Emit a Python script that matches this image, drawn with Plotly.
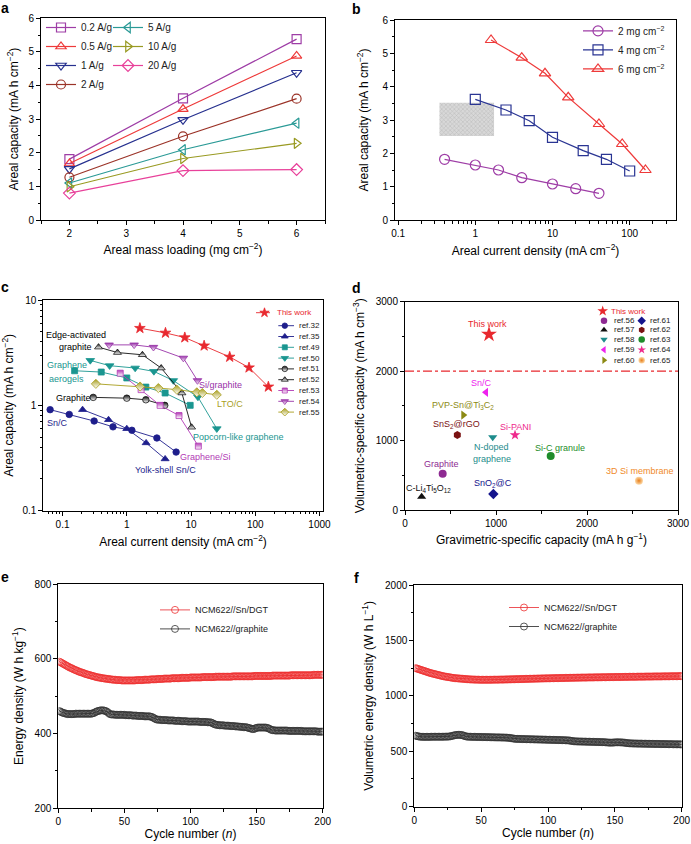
import plotly.graph_objects as go

W, H = 691, 844
FONT = "Liberation Sans, Arial, Helvetica, sans-serif"

# ====================== DATA ======================
# ---- (a) areal capacity vs areal mass loading
a_loading = [2, 4, 6]
a_names = ["0.2 A/g", "0.5 A/g", "1 A/g", "2 A/g", "5 A/g", "10 A/g", "20 A/g"]
a_cap_0p2 = [1.81, 3.62, 5.38]
a_cap_0p5 = [1.68, 3.30, 4.88]
a_cap_1 = [1.52, 2.98, 4.38]
a_cap_2 = [1.27, 2.49, 3.61]
a_cap_5 = [1.10, 2.09, 2.88]
a_cap_10 = [0.99, 1.83, 2.28]
a_cap_20 = [0.80, 1.47, 1.50]

# ---- (b) areal capacity vs areal current density
b_names = ["2 mg cm<sup>−2</sup>", "4 mg cm<sup>−2</sup>", "6 mg cm<sup>−2</sup>"]
b_j_2 = [0.4, 1, 2, 4, 10, 20, 40]
b_cap_2 = [1.82, 1.65, 1.50, 1.27, 1.08, 0.94, 0.80]
b_j_4 = [1, 2.5, 5, 10, 25, 50, 100]
b_cap_4 = [3.62, 3.30, 2.98, 2.48, 2.08, 1.82, 1.47]
b_j_6 = [1.6, 4, 8, 16, 40, 80, 160]
b_cap_6 = [5.40, 4.87, 4.40, 3.68, 2.88, 2.28, 1.50]
b_region_j = [0.343, 1.75]
b_region_cap = [2.52, 3.52]

# ---- (c) comparison with literature
c_this_j = [1.6, 4, 8, 16, 40, 80, 160]
c_this_cap = [5.40, 4.87, 4.40, 3.68, 2.88, 2.28, 1.50]
c_ref32_j = [0.064, 0.127, 0.31, 0.61, 1.2, 2.94, 5.86]
c_ref32_cap = [0.91, 0.82, 0.71, 0.625, 0.58, 0.49, 0.36]
c_ref35_j = [0.205, 0.52, 1.0, 2.0, 3.95]
c_ref35_cap = [0.91, 0.73, 0.60, 0.44, 0.31]
c_ref49_j = [0.154, 0.40, 1.0, 1.98, 3.95, 9.7]
c_ref49_cap = [2.13, 2.07, 1.82, 1.49, 1.31, 1.00]
c_ref50_j = [0.27, 0.54, 1.35, 2.64, 5.3, 12.8, 25.2]
c_ref50_cap = [2.67, 2.38, 2.26, 2.10, 1.72, 1.20, 0.60]
c_ref51_j = [0.30, 1.0, 1.98, 3.9]
c_ref51_cap = [1.19, 1.17, 1.13, 1.00]
c_ref52_j = [0.363, 0.716, 1.75, 3.43, 7.2, 10.2]
c_ref52_cap = [3.57, 3.17, 3.02, 2.26, 1.31, 0.62]
c_ref53_j = [0.79, 1.67, 3.3, 6.5, 13.0]
c_ref53_cap = [2.02, 1.41, 1.00, 0.80, 0.41]
c_ref54_j = [0.53, 1.30, 2.6, 7.6, 12.6]
c_ref54_cap = [3.75, 3.75, 3.56, 2.81, 1.72]
c_ref55_j = [0.33, 1.61, 3.1, 6.0, 12.3, 15.0, 25.2]
c_ref55_cap = [1.60, 1.51, 1.46, 1.41, 1.33, 1.31, 1.26]
c_names = ["This work", "ref.32", "ref.35", "ref.49", "ref.50", "ref.51",
           "ref.52", "ref.53", "ref.54", "ref.55"]

# ---- (d) volumetric vs gravimetric capacity
d_this_grav = [923]
d_this_vol = [2530]
d_names = ["ref.56", "ref.57", "ref.58", "ref.59", "ref.60",
           "ref.61", "ref.62", "ref.63", "ref.64", "ref.65"]
d_grav = [414, 183, 964, 890, 641, 971, 575, 1601, 1209, 2571]
d_vol = [523, 192, 1047, 1695, 1368, 230, 1080, 778, 1080, 422]
d_threshold = [2000, 2000]
d_threshold_x = [0, 3000]

# ---- (e, f) full-cell cycling
cycles = list(range(1, 201))
e_sn = [592,590,588,586,584,582,580,578,576,575,573,571,570,568,567,565,564,563,562,560,
        559,558,557,556,555,554,553,552,551,550,550,549,548,548,547,547,546,546,545,545,
        544,544,544,543,543,543,543,542,542,542,542,542,542,542,542,542,542,542,543,543,
        543,543,543,543,544,544,544,544,544,545,545,545,545,545,546,546,546,546,546,547,
        547,547,547,547,547,548,548,548,548,548,548,548,549,549,549,549,549,549,549,550,
        550,550,550,550,550,550,550,550,551,551,551,551,551,551,551,551,551,551,552,552,
        552,552,552,552,552,552,552,552,552,552,552,553,553,553,553,553,553,553,553,553,
        553,553,553,553,553,553,553,554,554,554,554,554,554,554,554,554,554,554,554,554,
        554,555,555,555,555,555,555,555,555,555,555,555,555,555,555,556,556,556,556,556,
        556,556,556,556,556,556,556,556,556,556,556,556,557,557,557,557,557,557,557,557]
e_gr = [460,458,456,455,454,453,452,452,452,452,452,452,453,453,453,453,453,453,453,453,
        453,453,453,453,453,454,455,457,459,460,461,462,462,462,461,460,458,455,452,451,
        451,451,450,450,450,450,450,450,450,450,449,449,449,449,449,448,448,448,448,447,
        447,447,447,447,446,446,446,446,446,445,444,442,440,438,437,437,437,436,436,436,
        436,436,435,435,435,435,435,434,434,434,434,434,433,433,433,433,433,432,432,432,
        432,432,432,432,432,432,431,431,431,431,431,431,430,430,430,429,427,425,424,423,
        423,422,422,422,422,421,421,421,421,420,420,420,420,419,419,419,418,418,418,417,
        417,417,416,415,414,413,412,412,414,415,416,416,416,416,416,416,416,415,414,412,
        410,409,409,408,408,408,408,408,408,408,408,408,408,407,407,407,407,407,407,407,
        407,407,407,407,406,406,406,406,406,406,406,406,406,406,406,405,405,405,405,405]
f_sn = [1250,1246,1242,1238,1234,1230,1226,1222,1218,1214,1210,1206,1203,1200,1197,1194,1191,1188,1185,1182,
        1179,1176,1174,1172,1170,1168,1166,1164,1162,1160,1159,1158,1157,1156,1155,1154,1153,1152,1151,1150,
        1149,1148,1148,1147,1147,1146,1146,1146,1145,1145,1145,1145,1145,1145,1145,1145,1145,1145,1146,1146,
        1146,1146,1146,1147,1147,1147,1147,1148,1148,1148,1149,1149,1149,1150,1150,1150,1151,1151,1151,1152,
        1152,1152,1153,1153,1153,1154,1154,1154,1155,1155,1155,1156,1156,1156,1157,1157,1157,1158,1158,1158,
        1158,1159,1159,1159,1160,1160,1160,1160,1161,1161,1161,1161,1162,1162,1162,1162,1163,1163,1163,1163,
        1164,1164,1164,1164,1165,1165,1165,1165,1165,1166,1166,1166,1166,1166,1167,1167,1167,1167,1167,1168,
        1168,1168,1168,1168,1169,1169,1169,1169,1169,1170,1170,1170,1170,1170,1170,1171,1171,1171,1171,1171,
        1172,1172,1172,1172,1172,1172,1173,1173,1173,1173,1173,1173,1174,1174,1174,1174,1174,1174,1175,1175,
        1175,1175,1175,1175,1175,1176,1176,1176,1176,1176,1176,1177,1177,1177,1177,1177,1177,1178,1178,1178]
f_gr = [640,637,634,632,631,630,630,630,630,630,630,630,631,631,631,631,631,631,631,631,
        631,631,632,632,632,633,635,638,641,644,646,648,648,648,647,645,641,636,633,632,
        631,631,630,630,630,630,629,629,629,629,628,628,628,628,627,627,627,626,626,626,
        625,625,625,625,624,624,624,623,623,622,621,619,617,615,613,612,612,611,611,611,
        610,610,610,609,609,609,608,608,608,607,607,607,606,606,606,605,605,605,604,604,
        604,603,603,603,602,602,602,601,601,601,600,600,599,599,598,597,595,593,591,590,
        589,589,588,588,588,587,587,587,586,586,586,585,585,585,584,584,584,583,583,583,
        582,582,581,580,579,578,578,578,579,580,581,581,581,580,580,579,578,576,574,573,
        572,571,571,570,570,570,569,569,569,569,568,568,568,568,567,567,567,567,566,566,
        566,566,566,565,565,565,565,565,564,564,564,564,564,563,563,563,563,563,562,562]
ef_names = ["NCM622//Sn/DGT", "NCM622//graphite"]

# ====================== STYLE ======================
RED = "#E8282E"
NAVY = "#1E1E8C"
TEAL = "#1A9690"
BLACK = "#111111"

fig = go.Figure()


def dx(p0, p1):
    return [p0 / W, p1 / W]


def dy(top, bot):
    return [1 - bot / H, 1 - top / H]


def ax(**kw):
    d = dict(showline=True, linecolor="black", linewidth=1, mirror=True,
             ticks="outside", ticklen=4, tickwidth=1, tickcolor="black",
             showgrid=False, zeroline=False, fixedrange=True, automargin=False,
             tickfont=dict(size=10, color="black", family=FONT),
             title_font=dict(size=12, color="black", family=FONT))
    d.update(kw)
    return d


def sc(x, y, xa, ya, **kw):
    fig.add_trace(go.Scatter(x=x, y=y, xaxis=xa, yaxis=ya, **kw))


# ---------------- panel a ----------------
a_series = [a_cap_0p2, a_cap_0p5, a_cap_1, a_cap_2, a_cap_5, a_cap_10, a_cap_20]
a_colors = ["#9E3DA6", "#EE3A3A", "#27318F", "#9B3328", "#2A9A96", "#999A22", "#E8419A"]
a_symbols = ["square-open", "triangle-up-open", "triangle-down-open", "circle-open",
             "triangle-left-open", "triangle-right-open", "diamond-open"]
for i, ys in enumerate(a_series):
    sc(a_loading, ys, "x", "y", name=a_names[i], mode="lines+markers",
       line=dict(color=a_colors[i], width=1.2),
       marker=dict(symbol=a_symbols[i], size=9, color=a_colors[i], line=dict(width=1.2)),
       legend="legend" if i < 4 else "legend2")

# ---------------- panel b ----------------
rx = [b_region_j[0], b_region_j[1], b_region_j[1], b_region_j[0], b_region_j[0]]
ry = [b_region_cap[0], b_region_cap[0], b_region_cap[1], b_region_cap[1], b_region_cap[0]]
sc(rx, ry, "x2", "y2", mode="lines", fill="toself", fillcolor="#d0d0d0",
   fillpattern=dict(shape="x", size=3, solidity=0.3, fgcolor="#9a9a9a", bgcolor="#d8d8d8"),
   line=dict(width=0), showlegend=False, hoverinfo="skip")
b_series = [(b_j_2, b_cap_2, "#9E3DA6", "circle-open"),
            (b_j_4, b_cap_4, "#2A3593", "square-open"),
            (b_j_6, b_cap_6, "#EE3A3A", "triangle-up-open")]
for i, (xs, ys, col, sym) in enumerate(b_series):
    sc(xs, ys, "x2", "y2", name=b_names[i], mode="lines+markers",
       line=dict(color=col, width=1.2),
       marker=dict(symbol=sym, size=10, color=col, line=dict(width=1.2)),
       legend="legend3")

# ---------------- panel c ----------------
c_series = [
    (c_this_j, c_this_cap, RED, "star", None, 8),
    (c_ref32_j, c_ref32_cap, NAVY, "circle", None, 6.5),
    (c_ref35_j, c_ref35_cap, NAVY, "triangle-up", None, 7),
    (c_ref49_j, c_ref49_cap, TEAL, "square", None, 6),
    (c_ref50_j, c_ref50_cap, TEAL, "triangle-down", None, 7.5),
    (c_ref51_j, c_ref51_cap, BLACK, "circle", "white", 6.5),
    (c_ref52_j, c_ref52_cap, BLACK, "triangle-up", "white", 7),
    (c_ref53_j, c_ref53_cap, "#B23AB5", "square", "white", 6),
    (c_ref54_j, c_ref54_cap, "#9832A8", "triangle-down", "white", 7.5),
    (c_ref55_j, c_ref55_cap, "#A89E1E", "diamond", "white", 7),
]


def c_marker(col, sym, half, size):
    m = dict(symbol=sym, size=size, color=col, line=dict(width=0.8, color=col))
    if half:
        m["gradient"] = dict(type="vertical", color=half)
    return m


for i, (xs, ys, col, sym, half, size) in enumerate(c_series):
    sc(xs, ys, "x3", "y3", name=c_names[i], mode="lines+markers",
       line=dict(color=col, width=0.9), marker=c_marker(col, sym, half, size),
       showlegend=False)

# ---------------- panel d ----------------
sc(d_threshold_x, d_threshold, "x4", "y4", mode="lines",
   line=dict(color="#E8282E", width=1.2, dash="dashdot"), showlegend=False, hoverinfo="skip")
d_colors = ["#8E2A92", "#111111", "#1E8C8C", "#EE22EE", "#8C8A14",
            "#14148C", "#7A1212", "#1E8C2A", "#EE2A8C", "#F08A2A"]
d_symbols = ["circle", "triangle-up", "triangle-down", "triangle-left", "triangle-right",
             "diamond", "hexagon", "circle", "star", "circle"]


def d_marker(i, size):
    if i == 9:
        return dict(symbol="circle", size=size, color="#FCD9A8",
                    gradient=dict(type="radial", color="#E87E1A"), line=dict(width=0))
    return dict(symbol=d_symbols[i], size=size, color=d_colors[i], line=dict(width=0))


for i in range(len(d_names)):
    sc([d_grav[i]], [d_vol[i]], "x4", "y4", name=d_names[i], mode="markers",
       marker=d_marker(i, 8), showlegend=False)
sc(d_this_grav, d_this_vol, "x4", "y4", name="This work", mode="markers",
   marker=dict(symbol="star", size=12, color=RED, line=dict(width=0)), showlegend=False)

# ---------------- panels e & f ----------------
for xa, ya, s1, s2, lg in [("x5", "y5", e_sn, e_gr, "legend4"), ("x6", "y6", f_sn, f_gr, "legend5")]:
    sc(cycles, s1, xa, ya, name=ef_names[0], mode="lines+markers",
       line=dict(color=RED, width=0.8),
       marker=dict(symbol="circle-open", size=7, color="#EE3030", line=dict(width=0.8)),
       legend=lg)
    sc(cycles, s2, xa, ya, name=ef_names[1], mode="lines+markers",
       line=dict(color="#222222", width=0.8),
       marker=dict(symbol="circle-open", size=7, color="#333333", line=dict(width=0.8)),
       legend=lg)

# ---------------- custom legends for c and d (overlay in pixel space) ----------------
ann = []


def txt(x, y, s, color="black", size=9, xanchor="left"):
    s = "<span style='font-size:%dpx'>%s</span>" % (size, s)
    ann.append(dict(x=x / W, y=1 - y / H, xref="paper", yref="paper", text=s, showarrow=False,
                    xanchor=xanchor, yanchor="middle",
                    font=dict(size=size, color=color, family=FONT)))


c_leg_rows = [312.7] + [325.7 + 10.8 * k for k in range(9)]
for i, (xs, ys, col, sym, half, size) in enumerate(c_series):
    yy = c_leg_rows[i]
    if i == 0:
        lx, mx, tx = (256, 270), 264.5, 275
    else:
        lx, mx, tx = (278.3, 294), 284.8, 296.7
    sc([lx[0], lx[1]], [yy, yy], "x7", "y7", mode="lines", line=dict(color=col, width=0.9),
       showlegend=False, hoverinfo="skip")
    sc([mx], [yy], "x7", "y7", mode="markers", marker=c_marker(col, sym, half, size - 1),
       showlegend=False, hoverinfo="skip")
    txt(tx, yy, c_names[i], color=RED if i == 0 else "#222222", size=8)

# d legend
sc([602.7], [311], "x7", "y7", mode="markers",
   marker=dict(symbol="star", size=8, color=RED, line=dict(width=0)), showlegend=False, hoverinfo="skip")
txt(609.3, 311, "This work", color=RED, size=8)
d_rows = [320.7, 329.9, 339.5, 349.8, 360.3]
for i in range(len(d_names)):
    col_i = i // 5
    yy = d_rows[i % 5]
    mx = 604 if col_i == 0 else 641.7
    tx = 611.7 if col_i == 0 else 647.7
    sc([mx], [yy], "x7", "y7", mode="markers", marker=d_marker(i, 6.5),
       showlegend=False, hoverinfo="skip")
    txt(tx, yy, d_names[i], color="#222222", size=8)

# labels in c
txt(75.5, 335, "Edge-activated", xanchor="center")
txt(75.5, 346.7, "graphite", xanchor="center")
txt(66.7, 365, "Graphene", color=TEAL, xanchor="center")
txt(66.7, 379.3, "aerogels", color=TEAL, xanchor="center")
txt(73.8, 397.7, "Graphite", xanchor="center")
txt(57.8, 423.3, "Sn/C", color=NAVY, xanchor="center")
txt(165.8, 470, "Yolk-shell Sn/C", color=NAVY, xanchor="center")
txt(206, 457.3, "Graphene/Si", color="#B23AB5", xanchor="center")
txt(238.3, 437.3, "Popcorn-like graphene", color=TEAL, xanchor="center")
txt(229.7, 404, "LTO/C", color="#A89E1E", xanchor="center")
txt(220.7, 385, "Si/graphite", color="#9832A8", xanchor="center")

# labels in d
txt(487.3, 324, "This work", color=RED, xanchor="center")
txt(481.7, 383.3, "Sn/C", color="#EE22EE", xanchor="center")
txt(463.3, 405, "PVP-Sn@Ti<sub>3</sub>C<sub>2</sub>", color="#8C8A14", xanchor="center")
txt(456.7, 424, "SnS<sub>2</sub>@rGO", color="#7A1212", xanchor="center")
txt(515, 426.7, "Si-PANI", color="#EE2A8C", xanchor="center")
txt(491.7, 447.3, "N-doped", color="#1E8C8C", xanchor="center")
txt(491.7, 459, "graphene", color="#1E8C8C", xanchor="center")
txt(560, 447.7, "Si-C granule", color="#1E8C2A", xanchor="center")
txt(441.7, 464, "Graphite", color="#8E2A92", xanchor="center")
txt(640, 471, "3D Si membrane", color="#F08A2A", xanchor="center")
txt(428.3, 488.3, "C-Li<sub>4</sub>Ti<sub>5</sub>O<sub>12</sub>", color="#111111", xanchor="center")
txt(493.3, 483.3, "SnO<sub>2</sub>@C", color="#14148C", xanchor="center")

# panel letters
for lx_, ly_, s in [(4.5, 8, "a"), (356, 8.5, "b"), (4.5, 287.5, "c"),
                    (356, 288, "d"), (4.5, 577, "e"), (356.5, 577.5, "f")]:
    txt(lx_, ly_, "<b>%s</b>" % s, size=14, xanchor="center")

# ====================== LAYOUT ======================
minor_log = [m * 10 ** e for e in range(-2, 4) for m in range(2, 10)]
log_vals = [0.1, 1, 10, 100, 1000]
log_text = ["0.1", "1", "10", "100", "1000"]
mnr = lambda d: dict(ticks="outside", ticklen=2.5, tickwidth=1, tickcolor="black", dtick=d, showgrid=False)
mnr_log = dict(ticks="outside", ticklen=2.5, tickwidth=1, tickcolor="black", tickvals=minor_log, showgrid=False)

leg = lambda x, y, fs: dict(x=x / W, y=1 - y / H, xanchor="left", yanchor="top",
                            bgcolor="rgba(0,0,0,0)", font=dict(size=fs, color="#222222", family=FONT),
                            tracegroupgap=0, itemwidth=30)

fig.update_layout(
    width=W, height=H, margin=dict(l=0, r=0, t=0, b=0, autoexpand=False),
    paper_bgcolor="white", plot_bgcolor="rgba(0,0,0,0)",
    font=dict(family=FONT, color="black"),
    showlegend=True,
    xaxis=ax(domain=dx(41, 325), range=[1.5, 6.5], dtick=1, minor=mnr(0.5),
             title=dict(text="Areal mass loading (mg cm<sup>−2</sup>)", standoff=7), anchor="y"),
    yaxis=ax(domain=dy(18.3, 220), range=[0, 6], dtick=1, minor=mnr(0.5),
             title=dict(text="Areal capacity (mA h cm<sup>−2</sup>)", standoff=7), anchor="x"),
    xaxis2=ax(domain=dx(395, 676), type="log", range=[-1.04, 2.6], tickvals=log_vals[:4],
              ticktext=log_text[:4], minor=mnr_log,
              title=dict(text="Areal current density (mA cm<sup>−2</sup>)", standoff=8), anchor="y2"),
    yaxis2=ax(domain=dy(20, 220), range=[0, 6], dtick=1, minor=mnr(0.5),
              title=dict(text="Areal capacity (mA h cm<sup>−2</sup>)", standoff=11), anchor="x2"),
    xaxis3=ax(domain=dx(43.3, 322.7), type="log", range=[-1.3, 3.05], tickvals=log_vals,
              ticktext=log_text, minor=mnr_log,
              title=dict(text="Areal current density (mA cm<sup>−2</sup>)", standoff=8), anchor="y3"),
    yaxis3=ax(domain=dy(300, 510.7), type="log", range=[-1, 1], tickvals=[0.1, 1, 10],
              ticktext=["0.1", "1", "10"], minor=mnr_log,
              title=dict(text="Areal capacity (mA h cm<sup>−2</sup>)", standoff=7), anchor="x3"),
    xaxis4=ax(domain=dx(405, 678), range=[0, 3000], dtick=1000, minor=mnr(500),
              title=dict(text="Gravimetric-specific capacity (mA h g<sup>−1</sup>)", standoff=7), anchor="y4"),
    yaxis4=ax(domain=dy(301.7, 510), range=[0, 3000], dtick=1000, minor=mnr(500),
              title=dict(text="Volumetric-specific capacity (mA h cm<sup>−3</sup>)", standoff=8), anchor="x4"),
    xaxis5=ax(domain=dx(58.3, 322.7), range=[0, 200], dtick=50, minor=mnr(25),
              title=dict(text="Cycle number (<i>n</i>)", standoff=1), anchor="y5"),
    yaxis5=ax(domain=dy(584, 808.3), range=[200, 800], dtick=200, minor=mnr(100),
              title=dict(text="Energy density (W h kg<sup>−1</sup>)", standoff=8), anchor="x5"),
    xaxis6=ax(domain=dx(414.3, 681.7), range=[0, 200], dtick=50, minor=mnr(25),
              title=dict(text="Cycle number (<i>n</i>)", standoff=1), anchor="y6"),
    yaxis6=ax(domain=dy(585, 806.7), range=[0, 2000], dtick=500, minor=mnr(250),
              title=dict(text="Volumetric energy density (W h L<sup>−1</sup>)", standoff=8), anchor="x6"),
    xaxis7=dict(domain=[0, 1], range=[0, W], visible=False, fixedrange=True, anchor="y7"),
    yaxis7=dict(domain=[0, 1], range=[H, 0], visible=False, fixedrange=True, anchor="x7"),
    legend=leg(41, 13, 10),
    legend2=leg(108, 13, 10),
    legend3=leg(578, 16.4, 10),
    legend4=leg(155, 595.4, 9),
    legend5=leg(504, 593, 9),
    annotations=ann,
)

fig.write_html("out.html", config={"displayModeBar": False},
               post_script="document.body.style.margin='0px';document.body.style.overflow='hidden';")
